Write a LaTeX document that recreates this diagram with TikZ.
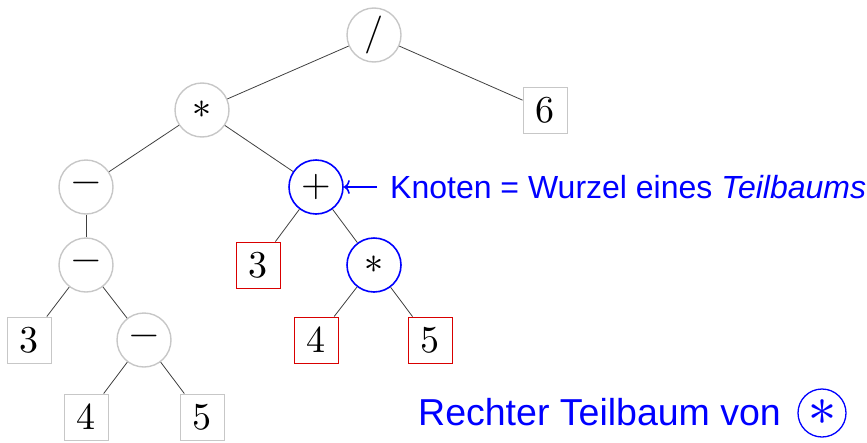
\documentclass[tikz,border=0pt]{standalone}
\usepackage{fontspec}
\setmainfont{Liberation Sans}
\usepackage{unicode-math}
\setmathfont{Latin Modern Math}
\usetikzlibrary{arrows.meta}
\begin{document}
\begin{tikzpicture}[x=1pt,y=-1pt,
  mathfont/.style={font=\fontsize{38}{40}\selectfont},
  op/.style={circle,draw=black!22,line width=1.4pt,minimum size=54pt,inner sep=0pt,mathfont},
  bop/.style={circle,draw=blue,line width=1.6pt,minimum size=54pt,inner sep=0pt,mathfont},
  leaf/.style={rectangle,draw=black!22,line width=0.9pt,minimum width=44pt,minimum height=46pt,inner sep=0pt,mathfont},
  rleaf/.style={rectangle,draw=red!85!black,line width=0.9pt,minimum width=44pt,minimum height=46pt,inner sep=0pt,mathfont},
  edge/.style={draw=black!75,line width=0.8pt},
  lbl/.style={text=blue,font=\fontsize{32}{38}\selectfont,inner sep=0pt}]
\useasboundingbox (0,0) rectangle (867,442);
\node[op] (div) at (374,35) {$/$};
\node[leaf] (six) at (545,110) {$6$};
\node[op] (mul) at (202,110) {$\ast$};
\node[op] (m1) at (86,187) {$-$};
\node[bop] (plus) at (316,187) {$+$};
\node[op] (m2) at (86,265) {$-$};
\node[rleaf] (r3) at (258,265) {$3$};
\node[bop] (bmul) at (374,265) {$\ast$};
\node[leaf] (l3) at (29,340) {$3$};
\node[op] (m3) at (144,340) {$-$};
\node[rleaf] (r4) at (316,340) {$4$};
\node[rleaf] (r5) at (430,340) {$5$};
\node[leaf] (l4) at (86,417) {$4$};
\node[leaf] (l5) at (202,417) {$5$};
\path[edge] (div) -- (six);
\path[edge] (div) -- (mul);
\path[edge] (mul) -- (m1);
\path[edge] (mul) -- (plus);
\path[edge] (m1) -- (m2);
\path[edge] (plus) -- (r3);
\path[edge] (plus) -- (bmul);
\path[edge] (m2) -- (l3);
\path[edge] (m2) -- (m3);
\path[edge] (bmul) -- (r4);
\path[edge] (bmul) -- (r5);
\path[edge] (m3) -- (l4);
\path[edge] (m3) -- (l5);
\node[lbl,anchor=west] (knoten) at (390,187) {Knoten = Wurzel eines \textit{Teilbaums}};
\coordinate (ks) at (377,187);
\draw[blue,line width=1.6pt,-{To[length=6pt,width=14pt]}] (ks) -- (plus.east);
\node[lbl,anchor=west,font=\fontsize{37.5}{42}\selectfont] (rechter) at (418,412) {Rechter Teilbaum von};
\node[circle,draw=blue,line width=1.3pt,minimum size=48pt,inner sep=0pt,text=blue,font=\fontsize{56}{60}\selectfont] (cstar) at (822,413) {$\ast$};
\end{tikzpicture}
\end{document}
